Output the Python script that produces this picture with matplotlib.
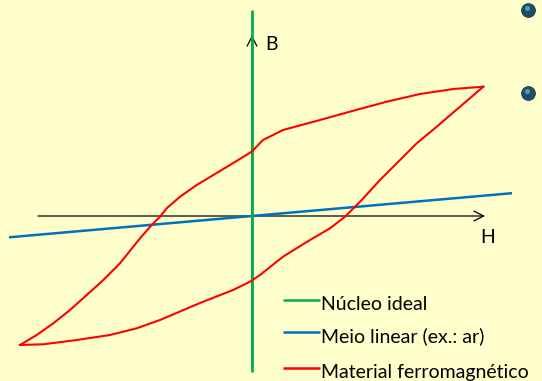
import numpy as np
import matplotlib
matplotlib.use("Agg")
import matplotlib.pyplot as plt

plt.rcParams["font.family"] = ["Lato", "DejaVu Sans"]

# hysteresis loop, H to the right, B up (origin where the axes cross)
upper_h = [231.3, 201.3, 168, 134.7, 101.3, 68, 31, 11, -0.3, -22, -38.7, -55.3,
           -72, -85.3, -92, -100.3, -112, -132, -148.7, -165.3, -182, -198.7,
           -215.3, -232]
upper_b = [129.3, 127, 122, 114.3, 105.3, 96, 86, 76, 64.3, 51, 41, 31,
           19.3, 7.7, -0.7, -9, -22.3, -47.3, -64, -79, -94, -107.3,
           -119, -129]
lower_h = [-232, -208.7, -175.3, -142, -115.3, -92, -52, -19, -2, 8, 31, 58,
           78, 93, 109.7, 128, 148, 164.7, 184.7, 208, 231.3]
lower_b = [-129, -128.3, -124, -119, -112.3, -104, -87, -74, -65.7, -59, -40.7, -24,
           -12.3, -0.7, 16, 36, 56, 72.7, 89.3, 109.3, 129.3]

ideal_h = [0, 0]
ideal_b = [-156, 206.5]
linear_h = [-243, 260]
linear_b = [-21.3, 22.8]

labels = ["Núcleo ideal", "Meio linear (ex.: ar)", "Material ferromagnético"]
colors = ["#00B050", "#0070C0", "#FF0000"]
bullets_h = [276, 276]
bullets_b = [206, 123]

BG = "#FFFFCC"

fig = plt.figure(figsize=(5.42, 3.81), dpi=100, facecolor=BG)
ax = fig.add_axes([0, 0, 1, 1])
ax.set_facecolor(BG)
ax.set_xlim(-252, 290)
ax.set_ylim(-165, 216)
ax.axis("off")

# axes with open arrow heads
arr = dict(arrowstyle="->,head_length=0.7,head_width=0.35", lw=0.9, color="black",
           mutation_scale=10, shrinkA=0, shrinkB=0)
ax.annotate("", xy=(233, 0), xytext=(-214, 0), arrowprops=arr, zorder=2)
ax.annotate("", xy=(0, 181), xytext=(0, -150), arrowprops=arr, zorder=2)
ax.text(13, 166, "B", fontsize=14, va="baseline", ha="left")
ax.text(228, -27, "H", fontsize=14, va="baseline", ha="left")

ax.plot(linear_h, linear_b, color=colors[1], lw=1.8, zorder=3, solid_capstyle="butt")
ax.plot(upper_h, upper_b, color=colors[2], lw=1.5, zorder=4, solid_joinstyle="round")
ax.plot(lower_h, lower_b, color=colors[2], lw=1.5, zorder=4, solid_joinstyle="round")
ax.plot(ideal_h, ideal_b, color=colors[0], lw=2.0, zorder=3, solid_capstyle="butt")

# legend drawn by hand
for i, (lab, c) in enumerate(zip(labels, colors)):
    yl = [-84, -116, -152][i]
    ax.plot([31, 68], [yl, yl], color=c, lw=1.8, solid_capstyle="butt")
    ax.text(69, yl - 10, lab, fontsize=14, va="baseline", ha="left", clip_on=False)

# slide bullets
ax.scatter(bullets_h, bullets_b, s=100, color="#1B4F66", edgecolor="#0E3344", lw=0.5, zorder=5)
ax.scatter(np.array(bullets_h) - 1.5, np.array(bullets_b) + 2, s=14, color="#5B93AA", lw=0, zorder=6)

fig.savefig("out.png", dpi=100, facecolor=BG)
